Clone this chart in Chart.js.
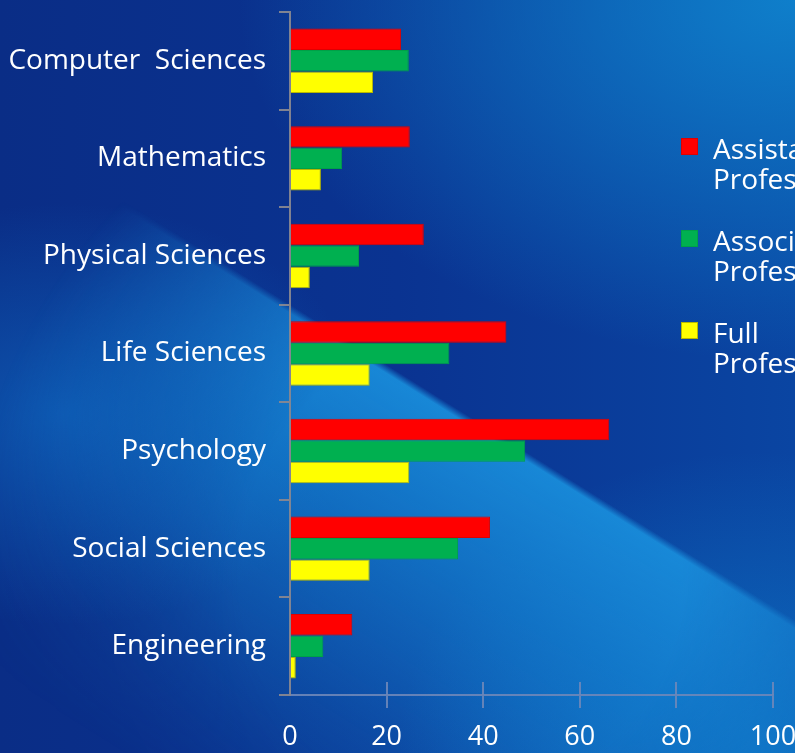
<!DOCTYPE html>
<html>
<head>
<meta charset="utf-8">
<script src="https://cdn.jsdelivr.net/npm/chart.js@4.4.0/dist/chart.umd.min.js"></script>
<style>
  html, body { margin: 0; padding: 0; overflow: hidden; }
  #wrap {
    width: 795px; height: 753px; position: relative;
    background:
      radial-gradient(ellipse 70% 48% at 100% 0%, rgba(15,130,205,0.95), rgba(15,130,205,0) 100%),
      radial-gradient(ellipse 38% 28% at 8% 55%, rgba(15,110,200,0.6), rgba(15,110,200,0) 100%),
      radial-gradient(ellipse 45% 40% at 95% 100%, rgba(15,135,210,0.6), rgba(15,135,210,0) 100%),
      linear-gradient(to right, #0a2d86 0%, #0a3391 50%, #0a45a2 100%);
  }
  #band {
    position: absolute; left: 0; top: 0; width: 795px; height: 753px;
    background: linear-gradient(212deg, rgba(20,135,215,0) 49.6%, rgba(25,140,218,0.95) 50.3%, rgba(20,130,210,0.75) 63%, rgba(20,130,210,0.3) 80%, rgba(20,130,210,0) 94%);
    -webkit-mask-image: radial-gradient(ellipse 62% 68% at 58% 76%, #000 45%, rgba(0,0,0,0) 100%);
    mask-image: radial-gradient(ellipse 62% 68% at 58% 76%, #000 45%, rgba(0,0,0,0) 100%);
  }
  #myChart { position: relative; }
</style>
</head>
<body>
<div id="wrap"><div id="band"></div><canvas id="myChart"></canvas></div>
<script>
var categories = ['Computer  Sciences','Mathematics','Physical Sciences','Life Sciences','Psychology','Social Sciences','Engineering'];
var assistant = [23, 24.8, 27.7, 44.8, 66.1, 41.4, 12.9];
var associate = [24.6, 10.8, 14.3, 33, 48.7, 34.8, 6.9];
var full = [17.2, 6.4, 4.1, 16.5, 24.7, 16.5, 1.2];
var xTicks = [0, 20, 40, 60, 80, 100];

// legend drawn at the right edge, two lines per entry
var sideLegend = {
  id: 'sideLegend',
  afterDraw: function(chart) {
    var ctx = chart.ctx;
    ctx.save();
    ctx.font = '28px "Open Sans"';
    ctx.textBaseline = 'alphabetic';
    ctx.textAlign = 'left';
    chart.data.datasets.forEach(function(ds, i) {
      var top = 138 + i * 92;
      ctx.fillStyle = ds.backgroundColor;
      ctx.fillRect(681, top, 17, 17);
      ctx.strokeStyle = ds.borderColor;
      ctx.lineWidth = 1;
      ctx.strokeRect(681.5, top + 0.5, 16, 16);
      ctx.fillStyle = '#ffffff';
      var words = ds.label.split(' ');
      ctx.fillText(words[0], 713, top + 21);
      ctx.fillText(words.slice(1).join(' '), 713, top + 51);
    });
    ctx.restore();
  }
};

// x tick marks cross the axis line
var crossTicks = {
  id: 'crossTicks',
  afterDatasetsDraw: function(chart) {
    var ctx = chart.ctx, x = chart.scales.x, b = chart.chartArea.bottom;
    ctx.save();
    ctx.strokeStyle = 'rgba(110,135,185,0.9)';
    ctx.lineWidth = 2;
    xTicks.forEach(function(v) {
      if (v === 0) return;
      var px = Math.round(x.getPixelForValue(v));
      ctx.beginPath();
      ctx.moveTo(px, b - 13);
      ctx.lineTo(px, b);
      ctx.stroke();
    });
    ctx.restore();
  }
};

new Chart('myChart', {
  type: 'bar',
  data: {
    labels: categories,
    datasets: [{
      label: 'Assistant Professor',
      data: assistant,
      backgroundColor: '#ff0000',
      borderColor: '#e00000',
      borderWidth: 1
    }, {
      label: 'Associate Professor',
      data: associate,
      backgroundColor: '#00b050',
      borderColor: '#00a048',
      borderWidth: 1
    }, {
      label: 'Full Professor',
      data: full,
      backgroundColor: '#ffff00',
      borderColor: '#b8b800',
      borderWidth: 1
    }]
  },
  options: {
    indexAxis: 'y',
    responsive: true,
    maintainAspectRatio: false,
    animation: false,
    layout: { padding: { top: 12, right: 22, left: 0, bottom: 0 } },
    datasets: { bar: { categoryPercentage: 0.66, barPercentage: 1 } },
    plugins: {
      legend: { display: false },
      tooltip: { enabled: false }
    },
    scales: {
      x: {
        min: 0,
        max: 100,
        afterBuildTicks: function(s) { s.ticks = xTicks.map(function(v) { return { value: v }; }); },
        grid: {
          drawOnChartArea: false,
          tickLength: 13,
          lineWidth: 2,
          color: function(c) { return c.tick && c.tick.value === 0 ? 'rgba(0,0,0,0)' : 'rgba(110,135,185,0.9)'; }
        },
        border: { color: 'rgba(110,135,185,0.9)', width: 2 },
        ticks: {
          color: '#ffffff',
          font: { family: 'Open Sans', size: 27 },
          padding: 13,
          maxRotation: 0
        },
        afterFit: function(s) { s.height = 58; s.paddingLeft = 0; s.paddingRight = 0; }
      },
      y: {
        grid: {
          drawOnChartArea: false,
          tickLength: 11,
          lineWidth: 2,
          color: 'rgba(135,135,145,0.95)'
        },
        border: { color: 'rgba(135,135,145,0.95)', width: 2 },
        ticks: {
          color: '#ffffff',
          font: { family: 'Open Sans', size: 28 },
          padding: 13
        },
        afterFit: function(s) { s.width = 290; s.paddingTop = 0; s.paddingBottom = 0; }
      }
    }
  },
  plugins: [sideLegend, crossTicks]
});
</script>
</body>
</html>
